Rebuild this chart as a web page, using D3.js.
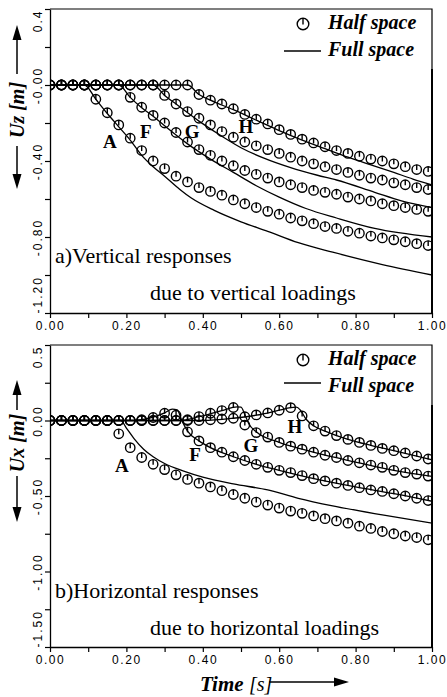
<!DOCTYPE html>
<html>
<head>
<meta charset="utf-8">
<script src="https://cdn.jsdelivr.net/npm/d3@7"></script>
<style>
  body { margin: 0; background: #fff; }
  svg { display: block; }
</style>
</head>
<body>
<div id="chart"></div>
<script>
var width = 447,
    height = 697;

// sampling times of the half space results
var times = [0.00, 0.03, 0.06, 0.09, 0.12, 0.15, 0.18, 0.21, 0.24, 0.27, 0.30, 0.33,
             0.36, 0.39, 0.42, 0.45, 0.48, 0.51, 0.54, 0.57, 0.60, 0.63, 0.66, 0.69,
             0.72, 0.75, 0.78, 0.81, 0.84, 0.87, 0.90, 0.93, 0.96, 0.99];

// a) vertical responses, half space (circles)
var uzHalfA = [0, 0, 0, 0, -0.075, -0.146, -0.21, -0.28, -0.345, -0.40, -0.44, -0.48, -0.51, -0.54,
               -0.56, -0.58, -0.605, -0.625, -0.645, -0.665, -0.68, -0.70, -0.715, -0.73,
               -0.745, -0.755, -0.77, -0.78, -0.795, -0.805, -0.815, -0.825, -0.835, -0.845];
var uzHalfF = [0, 0, 0, 0, 0, 0, 0, -0.065, -0.117, -0.16, -0.20, -0.25, -0.30, -0.34, -0.37, -0.40,
               -0.425, -0.45, -0.47, -0.49, -0.51, -0.525, -0.54, -0.555, -0.565, -0.575, -0.59,
               -0.60, -0.61, -0.625, -0.635, -0.645, -0.655, -0.665];
var uzHalfG = [0, 0, 0, 0, 0, 0, 0, 0, 0, 0, -0.055, -0.10, -0.14, -0.175, -0.21, -0.245, -0.275,
               -0.30, -0.32, -0.34, -0.36, -0.38, -0.40, -0.415, -0.43, -0.445, -0.46, -0.475,
               -0.49, -0.50, -0.515, -0.525, -0.54, -0.55];
var uzHalfH = [0, 0, 0, 0, 0, 0, 0, 0, 0, 0, 0, 0, 0, -0.05, -0.08, -0.10, -0.125, -0.155, -0.18,
               -0.205, -0.235, -0.26, -0.285, -0.305, -0.325, -0.345, -0.36, -0.375, -0.39, -0.40,
               -0.415, -0.43, -0.445, -0.455];

// a) vertical responses, full space (lines) [time, value]
var uzFullA = [[0, 0], [0.09, 0], [0.12, -0.075], [0.15, -0.15], [0.18, -0.22], [0.21, -0.29],
               [0.24, -0.37], [0.27, -0.43], [0.30, -0.48], [0.34, -0.55], [0.37, -0.595],
               [0.43, -0.66], [0.50, -0.72], [0.57, -0.77], [0.65, -0.83], [0.74, -0.88],
               [0.87, -0.945], [1.00, -1.00]];
var uzFullF = [[0, 0], [0.18, 0], [0.21, -0.065], [0.24, -0.12], [0.27, -0.165], [0.30, -0.215],
               [0.36, -0.31], [0.42, -0.39], [0.48, -0.46], [0.54, -0.53], [0.60, -0.59],
               [0.67, -0.65], [0.75, -0.70], [0.85, -0.755], [1.00, -0.80]];
var uzFullG = [[0, 0], [0.27, 0], [0.30, -0.055], [0.33, -0.10], [0.39, -0.19], [0.45, -0.27],
               [0.50, -0.33], [0.56, -0.385], [0.63, -0.435], [0.70, -0.475], [0.75, -0.50],
               [0.85, -0.565], [0.92, -0.61], [1.00, -0.645]];
var uzFullH = [[0, 0], [0.36, 0], [0.39, -0.05], [0.42, -0.08], [0.48, -0.13], [0.54, -0.185],
               [0.60, -0.24], [0.66, -0.29], [0.72, -0.335], [0.78, -0.38], [0.84, -0.42],
               [0.90, -0.46], [0.95, -0.495], [1.00, -0.526]];

// b) horizontal responses, half space (circles)
var uxHalfA = [0, 0, 0, 0, 0, 0, -0.088, -0.18, -0.245, -0.29, -0.325, -0.36, -0.39, -0.415,
               -0.44, -0.465, -0.49, -0.515, -0.54, -0.56, -0.58, -0.60, -0.615, -0.632, -0.65,
               -0.665, -0.68, -0.70, -0.715, -0.735, -0.75, -0.765, -0.775, -0.79];
var uxHalfF = [0, 0, 0, 0, 0, 0, 0, 0, 0.005, 0.02, 0.048, 0.035, -0.075, -0.135, -0.18, -0.21,
               -0.24, -0.265, -0.29, -0.31, -0.33, -0.345, -0.365, -0.385, -0.40, -0.415, -0.43,
               -0.445, -0.46, -0.47, -0.485, -0.50, -0.515, -0.53];
var uxHalfG = [0, 0, 0, 0, 0, 0, 0, 0, 0, 0, 0, 0, 0.005, 0.026, 0.048, 0.066, 0.086, -0.03,
               -0.08, -0.11, -0.145, -0.17, -0.19, -0.21, -0.23, -0.245, -0.265, -0.28, -0.295,
               -0.31, -0.33, -0.345, -0.355, -0.368];
var uxHalfH = [0, 0, 0, 0, 0, 0, 0, 0, 0, 0, 0, 0, 0, 0, 0.005, 0.01, 0.015, 0.025, 0.037, 0.05,
               0.068, 0.085, 0.03, -0.035, -0.07, -0.10, -0.125, -0.145, -0.165, -0.185, -0.20,
               -0.215, -0.235, -0.255];

// b) horizontal responses, full space (lines) [time, value]
var uxFullA = [[0, 0], [0.185, 0], [0.20, -0.05], [0.22, -0.12], [0.245, -0.19], [0.27, -0.24],
               [0.30, -0.285], [0.35, -0.335], [0.40, -0.375], [0.48, -0.42], [0.57, -0.46],
               [0.65, -0.515], [0.74, -0.565], [0.87, -0.625], [1.00, -0.68]];
var uxFullF = [[0, 0], [0.22, 0], [0.25, 0.01], [0.28, 0.03], [0.30, 0.05], [0.32, 0.075],
               [0.333, 0.07], [0.345, 0], [0.36, -0.07], [0.39, -0.135], [0.42, -0.18],
               [0.48, -0.24], [0.54, -0.29], [0.60, -0.33], [0.70, -0.39], [0.80, -0.44],
               [0.90, -0.485], [1.00, -0.535]];
var uxFullG = [[0, 0], [0.34, 0], [0.39, 0.025], [0.45, 0.065], [0.49, 0.09], [0.50, 0.088],
               [0.51, 0.04], [0.52, -0.02], [0.54, -0.075], [0.60, -0.145], [0.66, -0.19],
               [0.72, -0.23], [0.80, -0.275], [0.90, -0.33], [1.00, -0.37]];
var uxFullH = [[0, 0], [0.40, 0], [0.48, 0.015], [0.54, 0.035], [0.60, 0.068], [0.63, 0.085],
               [0.645, 0.088], [0.655, 0.07], [0.67, 0.01], [0.69, -0.035], [0.72, -0.07],
               [0.78, -0.125], [0.84, -0.165], [0.90, -0.20], [1.00, -0.26]];

// axes
var xTicks = [0, 0.1, 0.2, 0.3, 0.4, 0.5, 0.6, 0.7, 0.8, 0.9, 1.0];
var xLabels = ["0.00", "", "0.20", "", "0.40", "", "0.60", "", "0.80", "", "1.00"];
var uzTicks = [0.4, 0.2, 0, -0.2, -0.4, -0.6, -0.8, -1.0, -1.2];
var uzLabels = ["0.4", "", "-0.00", "", "-0.40", "", "-0.80", "", "-1.20"];
var uxTicks = [0.5, 0.25, 0, -0.25, -0.5, -0.75, -1.0, -1.25, -1.5];
var uxLabels = ["0.5", "", "0.00", "", "-0.50", "", "-1.00", "", "-1.50"];

// curve names and where their letters sit [time, value]
var curveNames = ["A", "F", "G", "H"];
var uzNamePos = [[0.157, -0.332], [0.251, -0.279], [0.372, -0.279], [0.513, -0.253]];
var uxNamePos = [[0.188, -0.341], [0.38, -0.268], [0.526, -0.209], [0.641, -0.083]];

var svg = d3.select("#chart").append("svg")
    .attr("width", width)
    .attr("height", height);

var x = d3.scaleLinear().domain([0, 1]).range([50, 432]);

var serif = "'Liberation Serif', 'Times New Roman', serif";
var sans = "'Liberation Sans', Arial, sans-serif";

function marker(g, cx, cy, r) {
  g.append("circle")
    .attr("cx", cx).attr("cy", cy).attr("r", r)
    .attr("fill", "none")
    .attr("stroke", "#000")
    .attr("stroke-width", 1.4);
  g.append("line")
    .attr("x1", cx).attr("y1", cy - r)
    .attr("x2", cx).attr("y2", cy + 0.5)
    .attr("stroke", "#000")
    .attr("stroke-width", 1.4);
}

function arrowHead(g, tipX, tipY, dir) {
  // dir: "up", "down", "right"
  var p;
  if (dir == "up") p = [[tipX, tipY], [tipX - 4.5, tipY + 15], [tipX + 4.5, tipY + 15]];
  else if (dir == "down") p = [[tipX, tipY], [tipX - 4.5, tipY - 15], [tipX + 4.5, tipY - 15]];
  else p = [[tipX, tipY], [tipX - 15, tipY - 4.5], [tipX - 15, tipY + 4.5]];
  g.append("path")
    .attr("d", "M" + p.join("L") + "Z")
    .attr("fill", "#000");
}

function drawPanel(o) {
  var y = d3.scaleLinear().domain(o.domain).range([o.bottom, o.top]);
  var g = svg.append("g");

  var clipId = "clip" + o.id;
  svg.append("clipPath").attr("id", clipId)
    .append("rect")
    .attr("x", 50).attr("y", o.top)
    .attr("width", 382).attr("height", o.bottom - o.top);

  // frame: top and right
  g.append("path")
    .attr("d", "M50," + o.top + "H432V" + o.bottom)
    .attr("fill", "none")
    .attr("stroke", "#000")
    .attr("stroke-width", 1.2);
  g.append("line")
    .attr("x1", 432).attr("x2", 432)
    .attr("y1", o.top + 60).attr("y2", o.bottom)
    .attr("stroke", "#000")
    .attr("stroke-width", 2);

  // x axis
  var xAxis = g.append("g")
    .attr("transform", "translate(0," + o.bottom + ")")
    .call(d3.axisBottom(x).tickValues(xTicks).tickSize(5).tickSizeOuter(0)
      .tickFormat(function(d, i) { return xLabels[i]; }));
  xAxis.select(".domain").attr("stroke-width", 1.3);
  xAxis.selectAll(".tick line").attr("stroke-width", 1.2);
  xAxis.selectAll("text")
    .attr("y", 8)
    .attr("font-family", sans)
    .attr("font-size", "12px")
    .attr("letter-spacing", "1.6px")
    .attr("fill", "#000");

  // y axis with rotated labels
  var yAxis = g.append("g")
    .attr("transform", "translate(50,0)")
    .call(d3.axisLeft(y).tickValues(o.ticks).tickSize(5).tickSizeOuter(0)
      .tickFormat(function(d, i) { return o.labels[i]; }));
  yAxis.select(".domain").attr("stroke-width", 1.3);
  yAxis.selectAll(".tick line").attr("stroke-width", 1.2);
  yAxis.selectAll("text")
    .attr("transform", "rotate(-90)")
    .attr("x", 0)
    .attr("y", -8)
    .attr("dy", 0)
    .attr("text-anchor", function(d, i) {
      if (i == 0) return "end";
      if (i == o.ticks.length - 1) return "start";
      return "middle";
    })
    .attr("font-family", sans)
    .attr("font-size", "12px")
    .attr("letter-spacing", "2px")
    .attr("fill", "#000");

  var plot = g.append("g").attr("clip-path", "url(#" + clipId + ")");

  var line = d3.line()
    .x(function(d) { return x(d[0]); })
    .y(function(d) { return y(d[1]); })
    .curve(d3.curveMonotoneX);

  o.full.forEach(function(s) {
    plot.append("path")
      .datum(s)
      .attr("d", line)
      .attr("fill", "none")
      .attr("stroke", "#000")
      .attr("stroke-width", 1.3);
  });

  o.half.forEach(function(s) {
    s.forEach(function(v, i) {
      marker(plot, x(times[i]), y(v), 4.7);
    });
  });

  // curve names
  g.selectAll(".cname")
    .data(curveNames)
    .enter().append("text")
    .attr("x", function(d, i) { return x(o.namePos[i][0]); })
    .attr("y", function(d, i) { return y(o.namePos[i][1]); })
    .attr("text-anchor", "middle")
    .attr("font-family", serif)
    .attr("font-weight", "bold")
    .attr("font-size", "19px")
    .text(function(d) { return d; });

  // legend
  marker(g, 303, o.top + 15, 5.8);
  g.append("text")
    .attr("x", 328).attr("y", o.top + 20)
    .attr("font-family", serif)
    .attr("font-weight", "bold")
    .attr("font-style", "italic")
    .attr("font-size", "20px")
    .text("Half space");
  g.append("line")
    .attr("x1", 284).attr("x2", 321)
    .attr("y1", o.top + o.legLine).attr("y2", o.top + o.legLine)
    .attr("stroke", "#000")
    .attr("stroke-width", 1.3);
  g.append("text")
    .attr("x", 328).attr("y", o.top + 47)
    .attr("font-family", serif)
    .attr("font-weight", "bold")
    .attr("font-style", "italic")
    .attr("font-size", "20px")
    .text("Full space");

  // panel title
  g.append("text")
    .attr("x", 55).attr("y", o.title1Y)
    .attr("font-family", serif)
    .attr("font-size", "22px")
    .text(o.title1);
  g.append("text")
    .attr("x", 150).attr("y", o.title2Y)
    .attr("font-family", serif)
    .attr("font-size", "22px")
    .text(o.title2);

  // y axis title with arrows
  var ax = 17;
  var yl = svg.append("g");
  yl.append("text")
    .attr("transform", "translate(" + (ax + 7) + "," + o.labelMid + ") rotate(-90)")
    .attr("text-anchor", "middle")
    .attr("font-family", serif)
    .attr("font-weight", "bold")
    .attr("font-style", "italic")
    .attr("font-size", "20px")
    .text(o.ylabel);
  yl.append("line")
    .attr("x1", ax).attr("x2", ax)
    .attr("y1", o.arrowTop + 12).attr("y2", o.labelTop)
    .attr("stroke", "#000").attr("stroke-width", 1.5);
  yl.append("line")
    .attr("x1", ax).attr("x2", ax)
    .attr("y1", o.labelBottom).attr("y2", o.arrowBottom - 12)
    .attr("stroke", "#000").attr("stroke-width", 1.5);
  arrowHead(yl, ax, o.arrowTop, "up");
  arrowHead(yl, ax, o.arrowBottom, "down");
}

drawPanel({
  id: "a", top: 9, bottom: 313, domain: [-1.2, 0.4],
  ticks: uzTicks, labels: uzLabels,
  half: [uzHalfA, uzHalfF, uzHalfG, uzHalfH],
  full: [uzFullA, uzFullF, uzFullG, uzFullH],
  namePos: uzNamePos, legLine: 42,
  title1: "a)Vertical responses", title1Y: 263,
  title2: "due to vertical loadings", title2Y: 300,
  ylabel: "Uz  [m]", labelMid: 110, labelTop: 74, labelBottom: 146,
  arrowTop: 25, arrowBottom: 189
});

drawPanel({
  id: "b", top: 345, bottom: 647, domain: [-1.5, 0.5],
  ticks: uxTicks, labels: uxLabels,
  half: [uxHalfA, uxHalfF, uxHalfG, uxHalfH],
  full: [uxFullA, uxFullF, uxFullG, uxFullH],
  namePos: uxNamePos, legLine: 38,
  title1: "b)Horizontal responses", title1Y: 598,
  title2: "due to horizontal loadings", title2Y: 635,
  ylabel: "Ux  [m]", labelMid: 443, labelTop: 410, labelBottom: 476,
  arrowTop: 380, arrowBottom: 522
});

// time axis title
var tt = svg.append("g");
tt.append("text")
  .attr("x", 200).attr("y", 691)
  .attr("font-family", serif)
  .attr("font-weight", "bold")
  .attr("font-style", "italic")
  .attr("font-size", "21px")
  .text("Time");
tt.append("text")
  .attr("x", 249).attr("y", 691)
  .attr("font-family", serif)
  .attr("font-style", "italic")
  .attr("font-size", "20px")
  .text("[s]");
tt.append("line")
  .attr("x1", 269).attr("x2", 336)
  .attr("y1", 682).attr("y2", 682)
  .attr("stroke", "#000").attr("stroke-width", 1.5);
arrowHead(tt, 349, 682, "right");
</script>
</body>
</html>
